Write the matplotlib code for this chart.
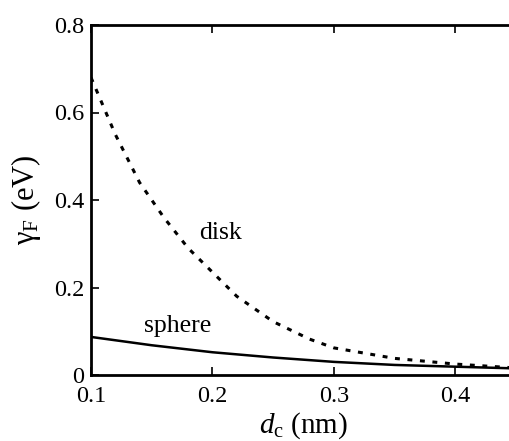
import matplotlib
matplotlib.use("Agg")
import matplotlib.pyplot as plt
import numpy as np

plt.rcParams['font.family'] = ['Liberation Serif', 'DejaVu Serif']
plt.rcParams['mathtext.fontset'] = 'custom'
plt.rcParams['mathtext.rm'] = 'Liberation Serif'
plt.rcParams['mathtext.it'] = 'Liberation Serif:italic'

disk_x = [0.10, 0.12, 0.14, 0.16, 0.18, 0.20, 0.22, 0.25, 0.28, 0.30, 0.35, 0.40, 0.45]
disk_y = [0.68, 0.55, 0.44, 0.36, 0.29, 0.235, 0.18, 0.122, 0.082, 0.062, 0.038, 0.025, 0.016]
sphere_x = [0.10, 0.15, 0.20, 0.25, 0.30, 0.35, 0.40, 0.45]
sphere_y = [0.087, 0.068, 0.052, 0.040, 0.030, 0.023, 0.019, 0.015]
xticks = [0.1, 0.2, 0.3, 0.4]
xticklabels = ["0.1", "0.2", "0.3", "0.4"]
yticks = [0, 0.2, 0.4, 0.6, 0.8]
yticklabels = ["0", "0.2", "0.4", "0.6", "0.8"]

fig = plt.figure(figsize=(5.09, 4.41), dpi=100)
ax = fig.add_axes([91/509, 66/441, 425/509, 350/441])

ax.plot(disk_x, disk_y, color='black', lw=2.2, linestyle=(0, (1.6, 2.5)))
ax.plot(sphere_x, sphere_y, color='black', lw=1.8)

ax.set_xlim(0.1, 0.45)
ax.set_ylim(0, 0.8)
ax.set_xticks(xticks)
ax.set_xticklabels(xticklabels)
ax.set_yticks(yticks)
ax.set_yticklabels(yticklabels)
ax.tick_params(direction='in', length=6, width=1.2, labelsize=17.5, top=True, right=False)
ax.tick_params(axis='x', pad=8)
ax.tick_params(axis='y', pad=5)
for s in ax.spines.values():
    s.set_linewidth(2.0)

ax.text(0.189, 0.311, "disk", fontsize=18.5)
ax.text(0.144, 0.098, "sphere", fontsize=18.5)

ax.set_ylabel("γ$_\\mathrm{F}$ (eV)", fontsize=22, labelpad=8)
ax.set_xlabel("$d_\\mathrm{c}$ (nm)", fontsize=21, labelpad=2)

fig.savefig("out.png", dpi=100)
